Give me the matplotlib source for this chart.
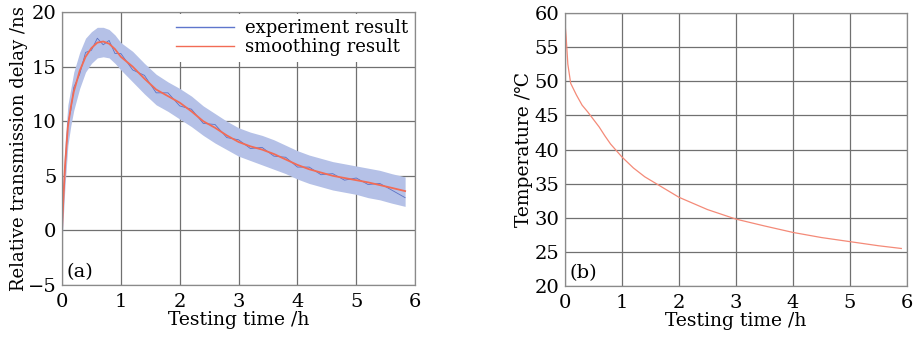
import numpy as np
import matplotlib.pyplot as plt
from matplotlib.lines import Line2D

# (a) relative transmission delay
t_delay = [0, 0.02, 0.05, 0.1, 0.15, 0.2, 0.3, 0.4, 0.5, 0.6, 0.7, 0.8, 0.9, 1.0,
           1.2, 1.4, 1.6, 1.8, 2.0, 2.2, 2.4, 2.6, 2.8, 3.0, 3.2, 3.4, 3.6, 3.8,
           4.0, 4.2, 4.4, 4.6, 4.8, 5.0, 5.2, 5.4, 5.6, 5.83]
smooth = [0, 2.5, 5.8, 9.5, 11.3, 12.7, 14.6, 15.9, 16.7, 17.2, 17.3, 17.1, 16.6, 15.9,
          15.0, 13.9, 12.9, 12.3, 11.7, 10.9, 10.0, 9.4, 8.7, 8.1, 7.7, 7.4, 7.0, 6.5,
          6.0, 5.6, 5.3, 5.0, 4.8, 4.6, 4.4, 4.15, 3.9, 3.6]
exp_mid = [-0.8, 3.0, 5.4, 9.9, 11.0, 13.1, 14.3, 16.3, 16.5, 17.6, 17.0, 17.4, 16.2, 16.2,
           14.7, 14.2, 12.6, 12.6, 11.4, 11.1, 9.8, 9.7, 8.5, 8.3, 7.5, 7.6, 6.8, 6.7,
           5.8, 5.8, 5.1, 5.2, 4.6, 4.8, 4.2, 4.3, 3.7, 3.0]
exp_upper = [0.5, 5.0, 8.0, 11.5, 13.0, 14.5, 16.3, 17.6, 18.2, 18.6, 18.6, 18.4, 17.9, 17.2,
             16.4, 15.3, 14.3, 13.6, 13.0, 12.3, 11.4, 10.7, 10.0, 9.4, 9.0, 8.7, 8.3, 7.8,
             7.3, 6.9, 6.6, 6.3, 6.1, 5.9, 5.7, 5.5, 5.2, 4.9]
exp_lower = [-1.2, 1.0, 4.0, 7.8, 9.6, 11.0, 13.0, 14.5, 15.3, 15.8, 15.9, 15.8, 15.3, 14.7,
             13.6, 12.5, 11.5, 10.9, 10.2, 9.5, 8.7, 8.0, 7.4, 6.8, 6.4, 6.0, 5.6, 5.2,
             4.7, 4.3, 4.0, 3.7, 3.5, 3.3, 3.0, 2.8, 2.5, 2.2]

# (b) temperature
t_temp = [0, 0.005, 0.02, 0.05, 0.1, 0.2, 0.3, 0.4, 0.5, 0.6, 0.7, 0.8, 1.0, 1.2, 1.4,
          1.6, 1.8, 2.0, 2.5, 3.0, 3.5, 4.0, 4.5, 5.0, 5.5, 5.9]
temp = [22, 58, 56.5, 52.5, 49.7, 48.0, 46.5, 45.5, 44.4, 43.3, 42.0, 40.8, 38.9, 37.3, 36.0,
        35.0, 34.0, 33.0, 31.2, 29.8, 28.8, 27.85, 27.1, 26.5, 25.9, 25.5]

xticks = [0, 1, 2, 3, 4, 5, 6]

plt.rcParams['font.family'] = ['DejaVu Serif', 'DejaVu Sans']

fig = plt.figure(figsize=(9.16, 3.37), dpi=100)
ax1 = fig.add_axes([0.0677, 0.1543, 0.3855, 0.81])
ax2 = fig.add_axes([0.6168, 0.1513, 0.3734, 0.81])

grid_c = '#707070'
for ax in (ax1, ax2):
    ax.grid(True, color=grid_c, lw=0.9)
    ax.set_axisbelow(True)
    for s in ax.spines.values():
        s.set_color('#8a8a8a')
        s.set_linewidth(0.9)
    ax.tick_params(axis='y', length=0, pad=4, labelsize=14)
    ax.tick_params(axis='x', length=0, pad=6, labelsize=14)
    ax.set_xlim(0, 6)
    ax.set_xticks(xticks)
    ax.set_xlabel('Testing time /h', fontsize=13.5, labelpad=0)

blue = '#5f76cc'
red = '#f26b55'
ax1.fill_between(t_delay, exp_lower, exp_upper, color='#b5c1e7', lw=0)
ax1.plot(t_delay, exp_mid, color='#5c72c4', lw=0.6)
ax1.plot(t_delay, smooth, color=red, lw=1.3)
ax1.set_ylim(-5, 20)
ax1.set_yticks([-5, 0, 5, 10, 15, 20])
ax1.set_yticklabels(['\u22125', '0', '5', '10', '15', '20'])
ax1.set_ylabel('Relative transmission delay /ns', fontsize=13, labelpad=0)
handles = [Line2D([], [], color=blue, lw=1.0), Line2D([], [], color=red, lw=1.0)]
leg = ax1.legend(handles, ['experiment result', 'smoothing result'], loc='upper right',
                 frameon=True, fontsize=13, handlelength=3.2, borderaxespad=0.1,
                 labelspacing=0.05, handletextpad=0.6, borderpad=0.3, fancybox=False)
leg.get_frame().set_edgecolor('none')
leg.get_frame().set_facecolor('white')
leg.get_frame().set_alpha(1)
ax1.text(0.012, 0.03, '(a)', transform=ax1.transAxes, fontsize=14)

ax2.plot(t_temp, temp, color='#f48a78', lw=0.9)
ax2.set_ylim(20, 60)
ax2.set_yticks([20, 25, 30, 35, 40, 45, 50, 55, 60])
ax2.set_ylabel('Temperature /\u2103', fontsize=13.5, labelpad=1)
ax2.text(0.012, 0.03, '(b)', transform=ax2.transAxes, fontsize=14)

fig.savefig('out.png', dpi=100)
